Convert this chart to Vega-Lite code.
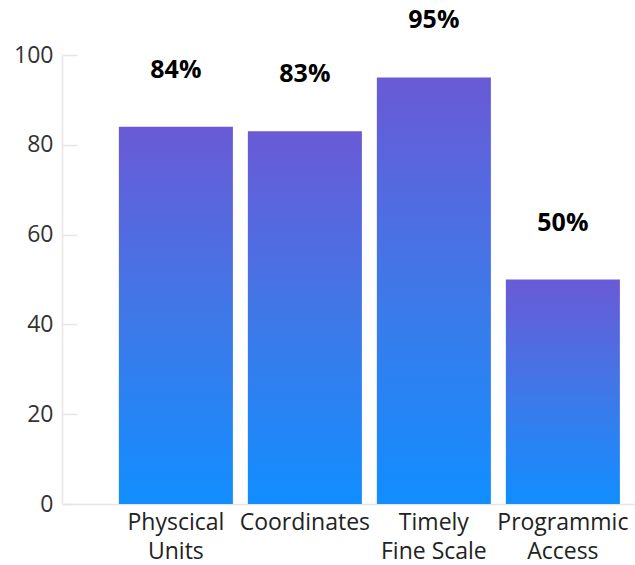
{
  "$schema": "https://vega.github.io/schema/vega-lite/v6.json",
  "autosize": "none",
  "width": 573,
  "height": 449,
  "padding": {"left": 62, "top": 55, "right": 0, "bottom": 61},
  "background": "white",
  "config": {"view": {"stroke": null}},
  "data": {
    "values": [
      {"category": "Physcical|Units", "value": 84, "label": "84%"},
      {"category": "Coordinates", "value": 83, "label": "83%"},
      {"category": "Timely|Fine Scale", "value": 95, "label": "95%"},
      {"category": "Programmic|Access", "value": 50, "label": "50%"}
    ]
  },
  "encoding": {
    "x": {
      "field": "category",
      "type": "nominal",
      "sort": null,
      "scale": {"paddingInner": 0.116, "paddingOuter": 0.279, "align": 0.79},
      "axis": {
        "title": null,
        "labelAngle": 0,
        "labelExpr": "split(datum.value, '|')",
        "labelFont": "Open Sans",
        "labelFontSize": 23,
        "labelColor": "#222222",
        "labelLineHeight": 29,
        "labelPadding": 7,
        "labelBaseline": "top",
        "ticks": false,
        "domain": true,
        "domainColor": "#e6e6e6",
        "domainWidth": 1.5
      }
    },
    "y": {
      "field": "value",
      "type": "quantitative",
      "scale": {"domain": [0, 100], "nice": false},
      "axis": {
        "title": null,
        "values": [0, 20, 40, 60, 80, 100],
        "grid": false,
        "domain": true,
        "domainColor": "#e6e6e6",
        "domainWidth": 1.5,
        "ticks": true,
        "tickSize": -15,
        "tickColor": "#e6e6e6",
        "tickWidth": 1.5,
        "labelPadding": 24,
        "labelFont": "Open Sans",
        "labelFontSize": 23,
        "labelColor": "#333333"
      }
    }
  },
  "layer": [
    {
      "mark": {
        "type": "bar",
        "color": {
          "gradient": "linear",
          "x1": 0, "y1": 0, "x2": 0, "y2": 1,
          "stops": [
            {"offset": 0, "color": "#6a5ad6"},
            {"offset": 0.5, "color": "#3f78e8"},
            {"offset": 1, "color": "#118eff"}
          ]
        }
      }
    },
    {
      "mark": {
        "type": "text",
        "font": "Open Sans",
        "fontWeight": "bold",
        "fontSize": 25,
        "color": "#000000",
        "baseline": "middle",
        "dy": -57
      },
      "encoding": {"text": {"field": "label"}}
    }
  ]
}
